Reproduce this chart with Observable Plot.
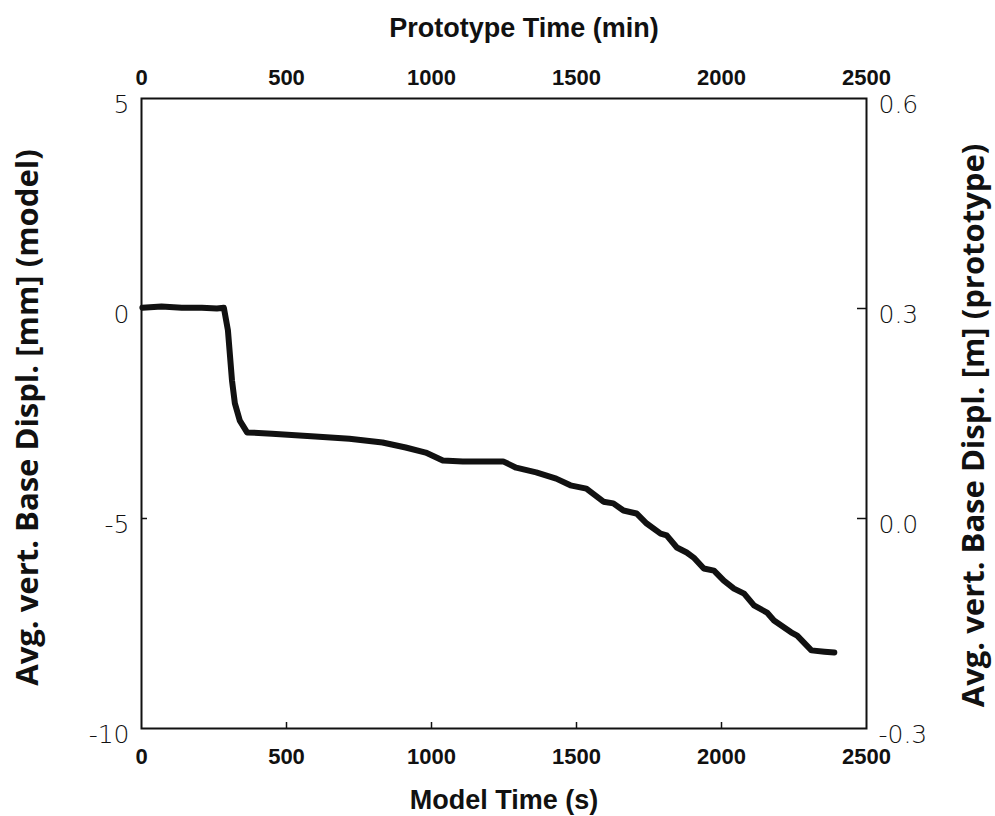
<!DOCTYPE html>
<html>
<head>
<meta charset="utf-8">
<script src="https://cdn.jsdelivr.net/npm/d3@7"></script>
<script src="https://cdn.jsdelivr.net/npm/@observablehq/plot@0.6"></script>
<style>
  html, body { margin: 0; padding: 0; background: #fff; }
  #chart svg { display: block; }
</style>
</head>
<body>
<div id="chart"></div>
<script>
// Model time (s)
const modelTime = [3, 69, 139, 208, 260, 284, 298, 312, 322, 339, 364, 450, 599, 717, 831, 911, 980, 1039, 1108, 1247, 1292, 1361, 1430, 1479, 1534, 1593, 1627, 1662, 1707, 1742, 1790, 1811, 1846, 1880, 1904, 1939, 1974, 2008, 2043, 2078, 2112, 2157, 2181, 2240, 2261, 2310, 2355, 2389];
// Avg. vertical base displacement (mm, model)
const baseDispl = [0.02, 0.05, 0.02, 0.02, 0.0, 0.02, -0.52, -1.71, -2.26, -2.67, -2.95, -2.98, -3.05, -3.10, -3.19, -3.31, -3.43, -3.62, -3.64, -3.64, -3.79, -3.90, -4.05, -4.21, -4.29, -4.60, -4.64, -4.81, -4.88, -5.12, -5.36, -5.40, -5.69, -5.81, -5.93, -6.19, -6.24, -6.48, -6.67, -6.79, -7.07, -7.24, -7.43, -7.71, -7.79, -8.14, -8.17, -8.19];

const xTicks = [0, 500, 1000, 1500, 2000, 2500];
const bottomTickLabels = ["0", "500", "1000", "1500", "2000", "2500"];
const topTickLabels = ["0", "500", "1000", "1500", "2000", "2500"];
const yTicks = [-10, -5, 0, 5];
const leftTickLabels = ["-10", "-5", "0", "5"];
const rightTickLabels = ["-0.3", "0.0", "0.3", "0.6"];

const data = modelTime.map((t, i) => ({t, d: baseDispl[i]}));

const W = 995, H = 816;
const mL = 141, mR = 129, mT = 98, mB = 88;
const frameW = W - mL - mR, frameH = H - mT - mB;

const boldFont = "Liberation Sans, Arial, sans-serif";
const thinFont = "DejaVu Sans, sans-serif";
const titleFont = "Open Sans, DejaVu Sans, sans-serif";

const chart = Plot.plot({
  width: W,
  height: H,
  marginLeft: mL,
  marginRight: mR,
  marginTop: mT,
  marginBottom: mB,
  style: {background: "#fff", color: "#111"},
  x: {domain: [0, 2500]},
  y: {domain: [-10, 5]},
  marks: [
    Plot.frame({stroke: "#111", strokeWidth: 2}),
    // inward ticks
    Plot.tickX(xTicks.slice(1, -1), {x: d => d, insetTop: frameH - 6, stroke: "#111", strokeWidth: 1.5}),
    Plot.tickY(yTicks.slice(1, -1), {y: d => d, insetRight: frameW - 6, stroke: "#111", strokeWidth: 1.5}),
    Plot.tickY(yTicks.slice(1, -1), {y: d => d, insetLeft: frameW - 9, stroke: "#111", strokeWidth: 1.5}),
    // axes
    Plot.axisX({anchor: "bottom", ticks: xTicks, tickSize: 0, tickPadding: 20, label: null,
      tickFormat: (d) => bottomTickLabels[xTicks.indexOf(d)],
      fontSize: 22, fontWeight: "bold", fontFamily: boldFont}),
    Plot.axisX({anchor: "top", ticks: xTicks, tickSize: 0, tickPadding: 14, label: null,
      tickFormat: (d) => topTickLabels[xTicks.indexOf(d)],
      fontSize: 22, fontWeight: "bold", fontFamily: boldFont}),
    Plot.axisY({anchor: "left", ticks: yTicks, tickSize: 0, tickPadding: 12, label: null,
      tickFormat: (d) => leftTickLabels[yTicks.indexOf(d)],
      fontSize: 25, fontWeight: 200, fontFamily: thinFont, dy: 6}),
    Plot.axisY({anchor: "right", ticks: yTicks, tickSize: 0, tickPadding: 12, label: null,
      tickFormat: (d) => rightTickLabels[yTicks.indexOf(d)],
      fontSize: 25, fontWeight: 200, fontFamily: thinFont, dy: 6}),
    // axis titles
    Plot.text(["Model Time (s)"], {frameAnchor: "bottom", lineAnchor: "middle", dy: 72, fontSize: 27, fontWeight: "bold", fontFamily: boldFont, fill: "#111"}),
    Plot.text(["Prototype Time (min)"], {frameAnchor: "top", lineAnchor: "middle", dy: -70, dx: 20, fontSize: 27, fontWeight: "bold", fontFamily: boldFont, fill: "#111"}),
    Plot.text(["Avg. vert. Base Displ. [mm] (model)"], {frameAnchor: "left", textAnchor: "middle", lineAnchor: "middle", dx: -113, dy: 4, rotate: -90, fontSize: 31, fontWeight: "bold", fontFamily: titleFont, fill: "#111"}),
    Plot.text(["Avg. vert. Base Displ. [m] (prototype)"], {frameAnchor: "right", textAnchor: "middle", lineAnchor: "middle", dx: 108, dy: 12, rotate: -90, fontSize: 31, fontWeight: "bold", fontFamily: titleFont, fill: "#111"}),
    // data
    Plot.line(data, {x: "t", y: "d", stroke: "#111", strokeWidth: 6, strokeLinejoin: "round", strokeLinecap: "round"})
  ]
});
document.getElementById("chart").appendChild(chart);
</script>
</body>
</html>
